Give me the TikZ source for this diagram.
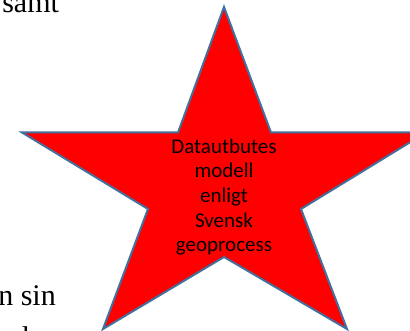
\documentclass[tikz,border=0pt]{standalone}
\usepackage{fontspec}
\setmainfont{Liberation Serif}
\newfontfamily\calibri{Carlito}
\definecolor{starred}{RGB}{255,0,0}
\definecolor{starline}{RGB}{65,113,156}
\tikzset{
    page text/.style={anchor=base west,inner sep=0pt,font=\fontsize{22.5}{27}\selectfont},
    star label/.style={align=center,inner sep=0pt,font=\calibri\fontsize{15.75}{18.5}\selectfont}
}
\begin{document}
\begin{tikzpicture}[x=0.75pt,y=-0.75pt]
    \useasboundingbox (0,0) rectangle (410,331);
    \clip (0,0) rectangle (410,331);
    \node[page text] (samt) at (2,12.5) {samt};
    \node[page text] (sin) at (-2,305) {n sin};
    \node[page text] (har) at (22,347) {har};

    \coordinate (T) at (224,7);
    \coordinate (UR) at (271,132.5);
    \coordinate (R) at (426,132.5);
    \coordinate (LR) at (301,209);
    \coordinate (BR) at (347,329);
    \coordinate (B) at (224,257);
    \coordinate (BL) at (103,329);
    \coordinate (LL) at (148,209);
    \coordinate (L) at (22,132.5);
    \coordinate (UL) at (178,132.5);

    \draw[fill=starred,draw=starline,line width=1.5pt] (T) -- (UR) -- (R) -- (LR) -- (BR) -- (B) -- (BL) -- (LL) -- (L) -- (UL) -- cycle;
    \node[star label] (model) at (224,197) {Datautbutes\\modell\\enligt\\Svensk\\geoprocess};
\end{tikzpicture}
\end{document}
